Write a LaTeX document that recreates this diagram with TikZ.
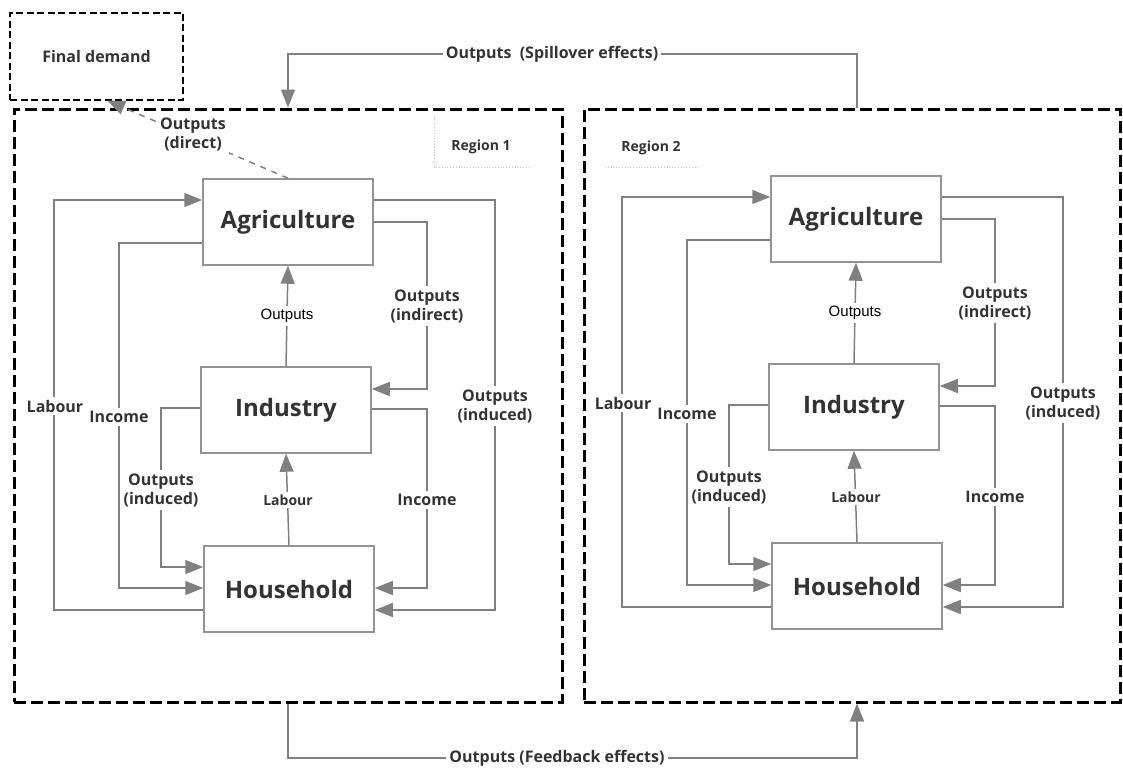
\documentclass[tikz,border=0pt]{standalone}
\usepackage{fontspec}
\setmainfont{Open Sans}
\newfontfamily\arialfont{Liberation Sans}
\usetikzlibrary{arrows.meta,calc}

\begin{document}
\begin{tikzpicture}[x=0.5pt,y=-0.5pt,>={Triangle[length=9pt,width=7pt]},flow/.style={->, draw=gray, line width=0.75pt},sector/.style={draw=gray!85, line width=0.75pt, fill=white, minimum width=85pt, minimum height=43pt, inner sep=0pt, text=black!80, font=\bfseries\fontsize{12}{14}\selectfont},lab/.style={fill=white, inner sep=1.5pt, align=center, text=black!80, font=\bfseries\fontsize{8}{9.5}\selectfont},regionbox/.style={draw, line width=1.5pt, dash pattern=on 6pt off 2.5pt, inner sep=0pt, minimum height=296.5pt}]
\useasboundingbox (0,0) rectangle (1123,767);
\node[draw, line width=1pt, dash pattern=on 3.5pt off 1.75pt, minimum width=86.5pt, minimum height=43.5pt, inner sep=0pt, text=black!80, font=\bfseries\fontsize{8}{9.5}\selectfont] (fd) at (96.5,56) {Final demand};
\node[regionbox, minimum width=274pt] (reg1) at (288,405.5) {};\node[regionbox, minimum width=268pt] (reg2) at (852,405.5) {};
\draw[gray!45, densely dotted] (434,116) -- (434,167) -- (529,167);\node[lab, font=\bfseries\fontsize{7}{8}\selectfont] (reglab1) at (481,147) {Region 1};
\draw[gray!45, densely dotted] (605,167) -- (698,167);\node[lab, font=\bfseries\fontsize{7}{8}\selectfont] (reglab2) at (651,148) {Region 2};
\foreach \r/\dx/\dy in {1/0/0,2/568/-3}{
\begin{scope}[shift={(\dx,\dy)}]
\node[sector] (agri\r) at (288,222) {Agriculture};\node[sector] (ind\r) at (286,410) {Industry};\node[sector] (hh\r) at (289,589) {Household};
\draw[flow] (hh\r.west|-0,610) -| (54,200) -- (agri\r.west|-0,200);\draw[flow] (agri\r.west|-0,243) -| (119,588) -- (hh\r.west|-0,588);\draw[flow] (ind\r.west|-0,408) -| (161,567) -- (hh\r.west|-0,567);
\draw[flow] (ind\r.north) -- (agri\r.south);\draw[flow] (hh\r.north) -- (ind\r.south);
\draw[flow] (agri\r.east|-0,222) -| (427,389) -- (ind\r.east|-0,389);\draw[flow] (agri\r.east|-0,200) -| (495,610) -- (hh\r.east|-0,610);\draw[flow] (ind\r.east|-0,409) -| (427,588) -- (hh\r.east|-0,588);
\node[lab] (labour\r) at (55,406) {Labour};\node[lab] (incl\r) at (119,417) {Income};\node[lab] (indl\r) at (161,490) {Outputs\\(induced)};
\node[lab, font=\arialfont\fontsize{7.5}{9}\selectfont, text=black] (outm\r) at (287,316) {Outputs};\node[lab, font=\bfseries\fontsize{7}{8}\selectfont] (labm\r) at (288,500) {Labour};
\node[lab] (indir\r) at (427,306) {Outputs\\(indirect)};\node[lab] (indr\r) at (495,406) {Outputs\\(induced)};\node[lab] (incr\r) at (427,500) {Income};
\end{scope}}
\draw[flow, dashed] (agri1.north) -- (fd.south-|107,0);\node[lab] (direct) at (193,134) {Outputs\\(direct)};
\draw[flow] (reg2.north-|857,0) |- (reg1.north|-0,54) -- (reg1.north);\node[lab] (spill) at (552,54) {Outputs\ \ (Spillover effects)};
\draw[flow] (reg1.south) |- (857,758) -- (reg2.south-|857,0);\node[lab] (feed) at (557,758) {Outputs (Feedback effects)};
\end{tikzpicture}
\end{document}
